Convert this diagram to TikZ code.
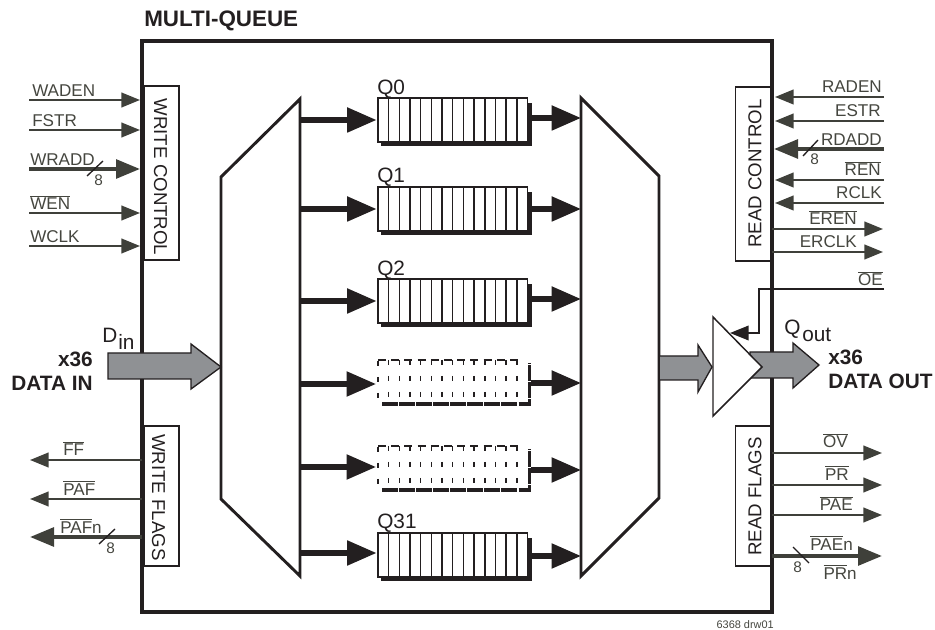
\documentclass[tikz,border=0pt]{standalone}
\usepackage{fontspec}
\setmainfont{Liberation Sans}
\usetikzlibrary{arrows.meta}
\definecolor{lab}{HTML}{45463F}
\definecolor{sigc}{HTML}{3F403A}
\definecolor{blk}{HTML}{231F20}
\definecolor{grayf}{HTML}{8F9194}
\newcommand\ovl[1]{\leavevmode\vbox{\hrule height 0.6pt\kern 1.3pt\hbox{#1}}}
\tikzset{
  sig/.style={draw=sigc,line width=1.6pt,-{Triangle[length=14pt,width=11pt,fill=sigc]}},
  bus/.style={draw=sigc,line width=2.9pt,-{Triangle[length=18pt,width=14pt,fill=sigc]}},
  flow/.style={draw=blk,line width=3.8pt,-{Triangle[length=22pt,width=18pt,fill=blk]}},
  lab/.style={text=lab,font=\fontsize{12.8}{14}\selectfont,inner sep=0pt},
  labw/.style={lab,anchor=base west},
  labe/.style={lab,anchor=base east},
  num/.style={text=lab,font=\fontsize{11.5}{13}\selectfont,inner sep=0pt},
  slash/.style={draw=blk,line width=1pt},
  ctl/.style={draw=blk,line width=1.3pt,fill=white},
  ctltext/.style={text=blk,font=\fontsize{14}{16}\selectfont,inner sep=0pt},
  big/.style={text=blk,font=\bfseries\fontsize{15.6}{17}\selectfont,inner sep=0pt},
  qlab/.style={text=blk,font=\fontsize{15.6}{18}\selectfont,inner sep=0pt,anchor=base west},
  dat/.style={draw=blk,line width=1pt,fill=grayf},
  mux/.style={draw=blk,line width=2.2pt,fill=white,line join=miter},
}
\begin{document}
\begin{tikzpicture}[x=0.75pt,y=-0.75pt]
\useasboundingbox (0,0) rectangle (935,630);
% frame
\node[draw=blk,line width=2.8pt,outer sep=0pt,minimum width=472.5pt,minimum height=428.5pt,inner sep=0pt,anchor=north west] (frame) at (142,41) {};
\node[anchor=base west,inner sep=0pt,text=blk,font=\bfseries\fontsize{16.8}{19}\selectfont] (title) at (144,27) {MULTI-QUEUE};
% control boxes
\node[ctl,minimum width=26pt,minimum height=130.5pt,inner sep=0pt] (wc) at (161.5,173) {};
\node[ctltext,rotate=-90] (wct) at (160.5,177) {WRITE CONTROL};
\node[ctl,minimum width=26pt,minimum height=105pt,inner sep=0pt] (wf) at (161.5,496) {};
\node[ctltext,rotate=-90] (wft) at (158.5,497.5) {WRITE FLAGS};
\node[ctl,minimum width=27pt,minimum height=130.5pt,inner sep=0pt] (rc) at (753.5,174) {};
\node[ctltext,rotate=90] (rct) at (755,173.5) {READ CONTROL};
\node[ctl,minimum width=27pt,minimum height=105pt,inner sep=0pt] (rf) at (753.5,496) {};
\node[ctltext,rotate=90] (rft) at (755,496.5) {READ FLAGS};
% redraw frame sides over boxes
\draw[draw=blk,line width=2.8pt] (142,41) -- (142,612) (772,41) -- (772,612);
% muxes
\draw[mux] (300,99) -- (221,177) -- (221,499) -- (300,576) -- cycle;
\draw[mux] (581,98) -- (659,176) -- (659,498) -- (581,576) -- cycle;
\coordinate (muxLtip) at (221,367);
\coordinate (muxRin) at (660,367);
% queues
\foreach \n/\t/\i/\o in {qa/98/120/118,qb/187/209/209,qc/279/301/299,qf/533/553/556}{
  \fill[blk] (381,\t+5) rectangle (531.5,\t+48);
  \draw[blk,line width=1.1pt,fill=white] (378,\t) rectangle (527.5,\t+44);
  \foreach \k in {1,...,13}{
    \draw[blk,line width=1.1pt] ({378+\k*10.68},\t) -- ({378+\k*10.68},\t+44);
  }
  \coordinate (\n w) at (376.5,\i);
  \coordinate (\n e) at (531,\o);
  \coordinate (\n a) at (300,\i);
  \coordinate (\n b) at (581,\o);
  \draw[flow] (\n a) -- (\n w);
  \draw[flow] (\n e) -- (\n b);
}
\foreach \n/\t/\i/\o in {qd/360/384/383,qe/446/467/470}{
  \draw[blk,line width=1.1pt,dash pattern=on 6pt off 3.9pt] (378,\t) -- (520,\t);
  \draw[blk,line width=1.1pt,dash pattern=on 3.8pt off 8.2pt] (378,\t+1) -- (378,\t+40);
  \foreach \k in {1,...,13}{
    \draw[blk,line width=1.1pt,dash pattern=on 3.8pt off 8.2pt] ({378+\k*10.68},\t) -- ({378+\k*10.68},\t+40);
  }
  \draw[blk,line width=2.4pt,dash pattern=on 12pt off 0.8pt] (382,\t+44) -- (529.5,\t+44) -- (529.5,\t+3);
  \coordinate (\n w) at (376,\i);
  \coordinate (\n e) at (531,\o);
  \coordinate (\n a) at (300,\i);
  \coordinate (\n b) at (581,\o);
  \draw[flow] (\n a) -- (\n w);
  \draw[flow] (\n e) -- (\n b);
}
\node[qlab] (q0) at (377,95) {Q0};
\node[qlab] (q1) at (377,183) {Q1};
\node[qlab] (q2) at (377,276) {Q2};
\node[qlab] (q31) at (377,528) {Q31};
% data arrows
\draw[dat] (108,353) -- (191,353) -- (191,344) -- (muxLtip) -- (191,389) -- (191,379) -- (108,379) -- cycle;
\draw[dat] (750,352) -- (793,352) -- (793,343) -- (819,365) -- (793,388) -- (793,378) -- (750,378) -- cycle;
\draw[dat] (muxRin) ++(0,-11) -- (698,356) -- (698,345) -- (712,367) -- (698,392) -- (698,380) -- (660,380);
% buffer
\draw[draw=blk,line width=1.1pt,fill=white,line join=miter] (713,317) -- (762,367) -- (713,416) -- cycle;
\coordinate (bufEn) at (730,333);
\coordinate (oeA) at (884,289);
\coordinate (oeB) at (759,289);
\coordinate (oeC) at (759,333);
\draw[blk,line width=1.1pt] (oeA) -- (oeB) -- (oeC) -- (748,333);
\draw[-{Triangle[length=14pt,width=11pt,fill=blk]},draw=blk,line width=1.1pt] (749,333) -- (bufEn);
% left inputs
\foreach \n/\y in {wa/100,wb/130,we/213,wd/246}{
  \coordinate (\n s) at (29,\y);
  \coordinate (\n t) at (140,\y);
  \draw[sig] (\n s) -- (\n t);
}
\coordinate (wrs) at (29,169); \coordinate (wrt) at (140,169);
\draw[bus] (wrs) -- (wrt);
\coordinate (s1a) at (87,176); \coordinate (s1b) at (103,161);
\draw[slash] (s1a) -- (s1b);
\node[num,anchor=base west] (n1) at (94,186) {8};
\node[labw] (l1) at (32,97) {WADEN};
\node[labw] (l2) at (32,127) {FSTR};
\node[labw] (l3) at (30,166) {WRADD};
\node[labw] (l4) at (30,210) {\ovl{WEN}};
\node[labw] (l5) at (30,243) {WCLK};
% left flags
\foreach \n/\y in {fa/460,fb/499}{
  \coordinate (\n s) at (142,\y);
  \coordinate (\n t) at (30,\y);
  \draw[sig] (\n s) -- (\n t);
}
\coordinate (fcs) at (142,537); \coordinate (fct) at (30,537);
\draw[bus] (fcs) -- (fct);
\coordinate (s2a) at (99,544); \coordinate (s2b) at (115,529);
\draw[slash] (s2a) -- (s2b);
\node[num,anchor=base west] (n2) at (106,553) {8};
\node[labw] (l6) at (63,456) {\ovl{FF}};
\node[labw] (l7) at (63,495) {\ovl{PAF}};
\node[labw] (l8) at (60,533) {\ovl{PAF}n};
% right inputs
\foreach \n/\y in {ra/97,rb/121,re/180,rd/203}{
  \coordinate (\n s) at (884,\y);
  \coordinate (\n t) at (775,\y);
  \draw[sig] (\n s) -- (\n t);
}
\coordinate (rcs) at (884,149); \coordinate (rct) at (774,149);
\draw[bus] (rcs) -- (rct);
\coordinate (s3a) at (803,156); \coordinate (s3b) at (818,140);
\draw[slash] (s3a) -- (s3b);
\node[num,anchor=base west] (n3) at (810,165) {8};
\foreach \n/\y in {rf/229,rg/252}{
  \coordinate (\n s) at (772,\y);
  \coordinate (\n t) at (883,\y);
  \draw[sig] (\n s) -- (\n t);
}
\node[labe] (r1) at (882,93) {RADEN};
\node[labe] (r2) at (881,117) {ESTR};
\node[labe] (r3) at (882,146) {RDADD};
\node[labe] (r4) at (881,176) {\ovl{REN}};
\node[labe] (r5) at (882,199) {RCLK};
\node[labe] (r6) at (857,225) {\ovl{EREN}};
\node[labe] (r7) at (857,248) {ERCLK};
\node[labe] (r8) at (883,286) {\ovl{OE}};
% right flags
\foreach \n/\y in {ga/453,gb/485,gc/515}{
  \coordinate (\n s) at (772,\y);
  \coordinate (\n t) at (882,\y);
  \draw[sig] (\n s) -- (\n t);
}
\coordinate (gds) at (772,556); \coordinate (gdt) at (882,556);
\draw[bus] (gds) -- (gdt);
\coordinate (s4a) at (793,547); \coordinate (s4b) at (809,563);
\draw[slash] (s4a) -- (s4b);
\node[num,anchor=base west] (n4) at (793,572) {8};
\node[labe] (g1) at (848,448) {\ovl{OV}};
\node[labe] (g2) at (849,480) {\ovl{PR}};
\node[labe] (g3) at (853,511) {\ovl{PAE}};
\node[labe] (g4) at (853,550) {\ovl{PAE}n};
\node[labe] (g5) at (857,579) {\ovl{PR}n};
% data labels
\node[qlab] (din) at (102,343) {D};
\node[qlab] (dins) at (118,350) {in};
\node[qlab] (qout) at (784,335) {Q};
\node[qlab] (qouts) at (802,342) {out};
\node[big,anchor=base east] (xa) at (93,367) {x36};
\node[big,anchor=base east] (da) at (93,391) {DATA IN};
\node[big,anchor=base west] (xb) at (828,365) {x36};
\node[big,anchor=base west] (db) at (828,389) {DATA OUT};
\node[anchor=base east,inner sep=0pt,text=lab,font=\fontsize{8.2}{10}\selectfont] (drw) at (774,628.5) {6368 drw01};
\end{tikzpicture}
\end{document}
